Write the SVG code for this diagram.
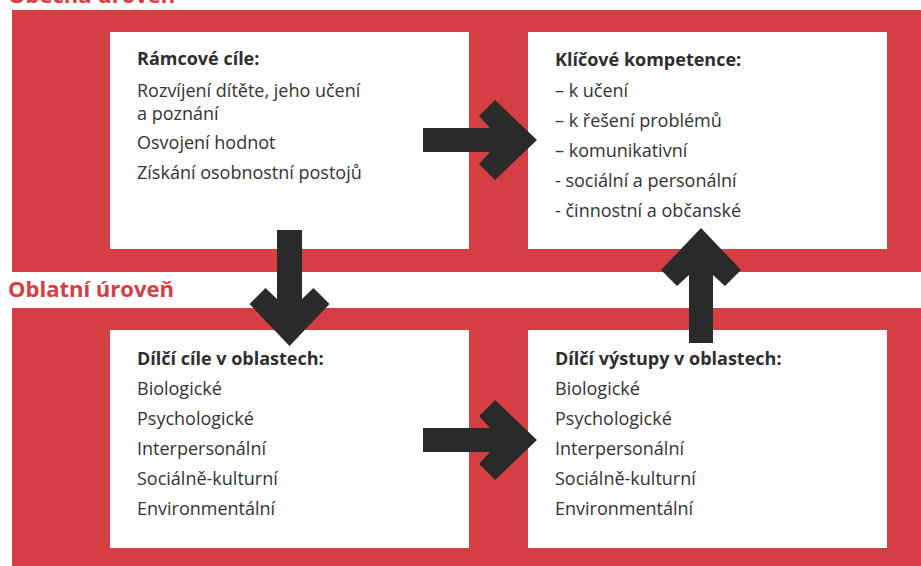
<svg xmlns="http://www.w3.org/2000/svg" width="921" height="566" viewBox="0 0 921 566">
  <style>
    .band { fill: #d53e42; }
    .box { fill: #ffffff; }
    .level { font-family: "Open Sans", "Liberation Sans", sans-serif; font-weight: bold; font-size: 22px; fill: #d53e42; }
    .title { font-family: "Open Sans", "Liberation Sans", sans-serif; font-weight: bold; font-size: 18px; fill: #2e2e2e; }
    .item { font-family: "Open Sans", "Liberation Sans", sans-serif; font-size: 18px; fill: #333333; }
    .arrow { fill: #2a2a2a; }
  </style>
  <rect width="921" height="566" fill="#ffffff"/>

  <g id="level-general">
    <rect class="band" x="12" y="10" width="909" height="262"/>
    <text class="level" x="8" y="3">Obecná úroveň</text>
  </g>
  <g id="level-area">
    <rect class="band" x="12" y="308" width="909" height="258"/>
    <text class="level" x="8" y="297">Oblatní úroveň</text>
  </g>

  <g id="node-ramcove-cile">
    <rect class="box" x="110" y="32" width="359" height="217"/>
    <text class="title" x="137" y="65">Rámcové cíle:</text>
    <text class="item" x="137" y="97">Rozvíjení dítěte, jeho učení</text>
    <text class="item" x="137" y="120">a poznání</text>
    <text class="item" x="137" y="149">Osvojení hodnot</text>
    <text class="item" x="137" y="179">Získání osobnostní postojů</text>
  </g>

  <g id="node-klicove-kompetence">
    <rect class="box" x="528" y="32" width="359" height="217"/>
    <text class="title" x="555" y="66">Klíčové kompetence:</text>
    <text class="item" x="555" y="97">– k učení</text>
    <text class="item" x="555" y="127">– k řešení problémů</text>
    <text class="item" x="555" y="157">– komunikativní</text>
    <text class="item" x="555" y="187">- sociální a personální</text>
    <text class="item" x="555" y="217">- činnostní a občanské</text>
  </g>

  <g id="node-dilci-cile">
    <rect class="box" x="110" y="330" width="359" height="218"/>
    <text class="title" x="137" y="365">Dílčí cíle v oblastech:</text>
    <text class="item" x="137" y="395">Biologické</text>
    <text class="item" x="137" y="425">Psychologické</text>
    <text class="item" x="137" y="455">Interpersonální</text>
    <text class="item" x="137" y="485">Sociálně-kulturní</text>
    <text class="item" x="137" y="515">Environmentální</text>
  </g>

  <g id="node-dilci-vystupy">
    <rect class="box" x="528" y="330" width="359" height="218"/>
    <text class="title" x="555" y="365">Dílčí výstupy v oblastech:</text>
    <text class="item" x="555" y="395">Biologické</text>
    <text class="item" x="555" y="425">Psychologické</text>
    <text class="item" x="555" y="455">Interpersonální</text>
    <text class="item" x="555" y="485">Sociálně-kulturní</text>
    <text class="item" x="555" y="515">Environmentální</text>
  </g>

  <g id="connectors">
    <path class="arrow" d="M537,140 L495,100 L479,116 L490,128 L423,128 L423,152 L490,152 L479,164 L495,180 Z"/>
    <path class="arrow" d="M537,440 L495,400 L479,416 L490,428 L423,428 L423,452 L490,452 L479,464 L495,480 Z"/>
    <path class="arrow" d="M289.5,346 L249.5,304 L265.5,288 L277,299 L277,230 L302,230 L302,299 L313.5,288 L329.5,304 Z"/>
    <path class="arrow" d="M701,228 L741,270 L725,286 L713,275 L713,343 L689,343 L689,275 L677,286 L661,270 Z"/>
  </g>
</svg>
